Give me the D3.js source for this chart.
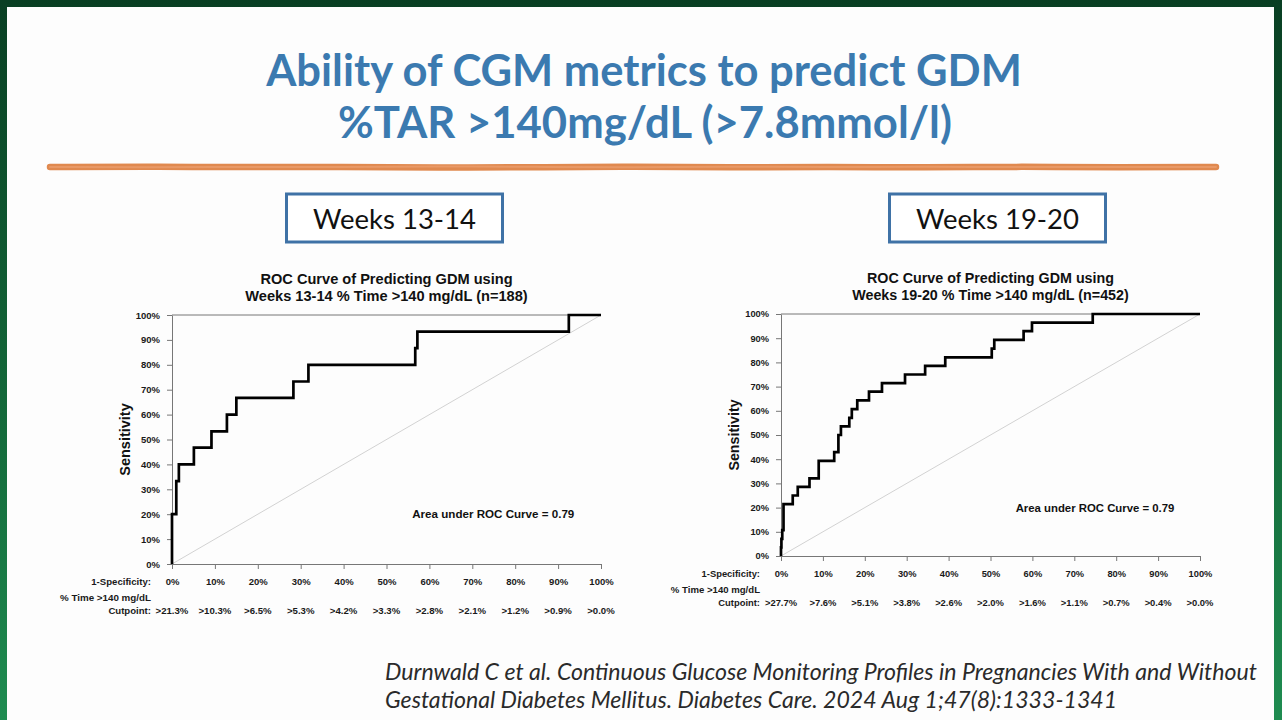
<!DOCTYPE html>
<html>
<head>
<meta charset="utf-8">
<script src="https://cdn.jsdelivr.net/npm/d3@7"></script>
<style>
  html, body { margin: 0; padding: 0; overflow: hidden; }
  body { width: 1282px; height: 720px; }
</style>
</head>
<body>
<div id="slide"></div>
<script>
// valores
const tickPct = [0, 10, 20, 30, 40, 50, 60, 70, 80, 90, 100];
const cortes1314 = [">21.3%", ">10.3%", ">6.5%", ">5.3%", ">4.2%", ">3.3%", ">2.8%", ">2.1%", ">1.2%", ">0.9%", ">0.0%"];
const cortes1920 = [">27.7%", ">7.6%", ">5.1%", ">3.8%", ">2.6%", ">2.0%", ">1.6%", ">1.1%", ">0.7%", ">0.4%", ">0.0%"];

// 1-especificidad (%) y sensibilidad (%) en cada escalon
const fpr1314 = [0, 0, 1.0, 1.6, 5.1, 9.2, 12.8, 15.0, 28.3, 31.8, 56.7, 57.2, 92.5, 100];
const tpr1314 = [0, 20.0, 33.3, 40.0, 46.7, 53.3, 60.0, 66.7, 73.3, 80.0, 86.7, 93.3, 100, 100];

const fpr1920 = [0, 0, 0.1, 0.3, 0.6, 2.8, 4.0, 6.8, 9.0, 12.7, 13.7, 14.3, 16.3, 16.9, 18.2, 21.0, 24.1, 29.6, 34.4, 39.2, 50.3, 50.9, 57.9, 59.9, 74.4, 100];
const tpr1920 = [0, 3.6, 7.1, 10.7, 21.4, 25.0, 28.6, 32.1, 39.3, 42.9, 50.0, 53.6, 57.1, 60.7, 64.3, 67.9, 71.4, 75.0, 78.6, 82.1, 85.7, 89.3, 92.9, 96.4, 100, 100];

const titulo = ["Ability of CGM metrics to predict GDM", "%TAR >140mg/dL (>7.8mmol/l)"];
const cita = ["Durnwald C et al. Continuous Glucose Monitoring Profiles in Pregnancies With and Without",
              "Gestational Diabetes Mellitus. Diabetes Care. 2024 Aug 1;47(8):1333-1341"];
const auc = 0.79;

const W = 1282, H = 720;
const svg = d3.select("#slide").append("svg")
    .attr("width", W).attr("height", H)
    .style("display", "block");

// fondo verde con degradado
const defs = svg.append("defs");
const grad = defs.append("linearGradient").attr("id", "verde")
    .attr("x1", 0).attr("y1", 0).attr("x2", 0).attr("y2", 1);
grad.append("stop").attr("offset", "0%").attr("stop-color", "#093f23");
grad.append("stop").attr("offset", "60%").attr("stop-color", "#146b3b");
grad.append("stop").attr("offset", "100%").attr("stop-color", "#1f8c51");

svg.append("rect").attr("width", W).attr("height", H).attr("fill", "url(#verde)");
svg.append("rect").attr("x", 7).attr("y", 7).attr("width", 1267).attr("height", H - 7)
    .attr("fill", "#fdfdfd");

// ajusta el tamano de letra para ocupar un ancho dado
function ajustar(sel, ancho) {
    const w = sel.node().getComputedTextLength();
    const fs = parseFloat(sel.attr("font-size"));
    sel.attr("font-size", (fs * ancho / w).toFixed(2));
    return fs * ancho / w;
}

// titulo principal
const t1 = svg.append("text").attr("x", 644).attr("y", 86)
    .attr("text-anchor", "middle").attr("font-family", "Lato, 'Open Sans', sans-serif")
    .attr("font-weight", "bold").attr("font-size", 40).attr("fill", "#3b7ab0")
    .text(titulo[0]);
ajustar(t1, 756);
const t2 = svg.append("text").attr("x", 645).attr("y", 138)
    .attr("text-anchor", "middle").attr("font-family", "Lato, 'Open Sans', sans-serif")
    .attr("font-weight", "bold").attr("font-size", 40).attr("fill", "#3b7ab0")
    .text(titulo[1]);
ajustar(t2, 614);

// trazo naranja bajo el titulo
const ondas = [0, -0.6, 0.4, -0.3, 0.8, 0.2, -0.5, 0.6, -0.2, 0.5, -0.4, 0.3, 0];
const xo = d3.scaleLinear().domain([0, ondas.length - 1]).range([50, 1216]);
const trazo = d3.line().x((d, i) => xo(i)).y(d => 167 + d).curve(d3.curveBasis);
svg.append("path").attr("d", trazo(ondas)).attr("fill", "none")
    .attr("stroke", "#e0894f").attr("stroke-width", 6.5).attr("stroke-linecap", "round");
svg.append("path").attr("d", trazo(ondas.map(d => -d * 0.8))).attr("fill", "none")
    .attr("stroke", "#eca070").attr("stroke-width", 2).attr("stroke-linecap", "round")
    .attr("opacity", 0.7);

// cajas de semanas
function caja(x, y, w, h, texto) {
    svg.append("rect").attr("x", x).attr("y", y).attr("width", w).attr("height", h)
        .attr("fill", "#ffffff").attr("stroke", "#3f72a6").attr("stroke-width", 3);
    const t = svg.append("text").attr("x", x + w / 2).attr("y", y + 35)
        .attr("text-anchor", "middle").attr("font-family", "Lato, 'Open Sans', sans-serif")
        .attr("font-size", 26).attr("fill", "#111").text(texto);
    ajustar(t, 163);
}
caja(286.5, 194, 216, 48, "Weeks 13-14");
caja(889.5, 194, 216, 48, "Weeks 19-20");

const fuente = "'Liberation Sans', Arial, sans-serif";

function graficoRoc(cfg) {
    const g = svg.append("g");
    const x = d3.scaleLinear().domain([0, 100]).range([cfg.left, cfg.right]);
    const y = d3.scaleLinear().domain([0, 100]).range([cfg.bottom, cfg.top]);

    // titulo del grafico
    const cx = (cfg.left + cfg.right) / 2;
    g.append("text").attr("x", cx).attr("y", cfg.top - 31)
        .attr("text-anchor", "middle").attr("font-family", fuente).attr("font-weight", "bold")
        .attr("font-size", cfg.fs * 14.6).attr("fill", "#111")
        .text("ROC Curve of Predicting GDM using");
    g.append("text").attr("x", cx).attr("y", cfg.top - 14)
        .attr("text-anchor", "middle").attr("font-family", fuente).attr("font-weight", "bold")
        .attr("font-size", cfg.fs * 14.6).attr("fill", "#111")
        .text(cfg.subtitulo);

    // diagonal de referencia
    g.append("line")
        .attr("x1", x(0)).attr("y1", y(0)).attr("x2", x(100)).attr("y2", y(100))
        .attr("stroke", "#d2d2d2").attr("stroke-width", 1);

    // linea superior del marco
    g.append("line")
        .attr("x1", x(0)).attr("y1", y(100)).attr("x2", x(100)).attr("y2", y(100))
        .attr("stroke", "#777").attr("stroke-width", 1);

    const ejeY = g.append("g")
        .attr("transform", `translate(${cfg.left}, 0)`)
        .call(d3.axisLeft(y).tickValues(tickPct).tickSize(5).tickSizeOuter(0)
            .tickPadding(7).tickFormat(d => d + "%"));
    const ejeX = g.append("g")
        .attr("transform", `translate(0, ${cfg.bottom})`)
        .call(d3.axisBottom(x).tickValues(tickPct).tickSize(5).tickSizeOuter(0)
            .tickPadding(0).tickFormat(d => d + "%"));

    [ejeY, ejeX].forEach(e => {
        e.select(".domain").attr("stroke", "#777");
        e.selectAll(".tick line").attr("stroke", "#777");
        e.selectAll("text").attr("font-family", fuente).attr("font-weight", "bold")
            .attr("font-size", cfg.fs * 9.5).attr("fill", "#1a1a1a");
    });
    ejeX.selectAll("text").attr("dy", null).attr("y", 21);

    // curva ROC escalonada
    const puntos = cfg.fpr.map((f, i) => [f, cfg.tpr[i]]);
    g.append("path")
        .datum(puntos)
        .attr("fill", "none")
        .attr("stroke", "#000")
        .attr("stroke-width", 2.7)
        .attr("stroke-linejoin", "miter")
        .attr("d", d3.line().x(d => x(d[0])).y(d => y(d[1])).curve(d3.curveStepAfter));

    // etiquetas del eje x
    const xr = cfg.left - 21;
    g.append("text").attr("x", xr).attr("y", cfg.bottom + 21)
        .attr("text-anchor", "end").attr("font-family", fuente).attr("font-weight", "bold")
        .attr("font-size", cfg.fs * 9.6).attr("fill", "#1a1a1a").text("1-Specificity:");
    g.append("text").attr("x", xr).attr("y", cfg.bottom + 37)
        .attr("text-anchor", "end").attr("font-family", fuente).attr("font-weight", "bold")
        .attr("font-size", cfg.fs * 9.8).attr("fill", "#1a1a1a").text("% Time >140 mg/dL");
    g.append("text").attr("x", xr).attr("y", cfg.bottom + 50)
        .attr("text-anchor", "end").attr("font-family", fuente).attr("font-weight", "bold")
        .attr("font-size", cfg.fs * 9.6).attr("fill", "#1a1a1a").text("Cutpoint:");

    g.selectAll(".corte")
        .data(cfg.cortes)
        .enter()
        .append("text")
        .attr("class", "corte")
        .attr("x", (d, i) => x(tickPct[i]))
        .attr("y", cfg.bottom + 50)
        .attr("text-anchor", "middle")
        .attr("font-family", fuente)
        .attr("font-weight", "bold")
        .attr("font-size", cfg.fs * 9.6)
        .attr("fill", "#1a1a1a")
        .text(d => d);

    // etiqueta del eje y
    g.append("text")
        .attr("transform", `translate(${cfg.left - 47}, ${(cfg.top + cfg.bottom) / 2}) rotate(-90)`)
        .attr("text-anchor", "middle").attr("dominant-baseline", "central")
        .attr("font-family", fuente).attr("font-weight", "bold")
        .attr("font-size", cfg.fs * 14.5).attr("fill", "#111").text("Sensitivity");

    // area bajo la curva
    g.append("text").attr("x", x(56)).attr("y", y(cfg.aucY))
        .attr("font-family", fuente).attr("font-weight", "bold")
        .attr("font-size", cfg.fs * 11.6).attr("fill", "#111")
        .text(`Area under ROC Curve = ${auc}`);
}

graficoRoc({
    left: 172, right: 601, top: 315, bottom: 564, fs: 1,
    subtitulo: "Weeks 13-14 % Time >140 mg/dL (n=188)",
    fpr: fpr1314, tpr: tpr1314, cortes: cortes1314, aucY: 18.5
});
graficoRoc({
    left: 781, right: 1200, top: 314, bottom: 556, fs: 0.98,
    subtitulo: "Weeks 19-20 % Time >140 mg/dL (n=452)",
    fpr: fpr1920, tpr: tpr1920, cortes: cortes1920, aucY: 18.2
});

// referencia bibliografica
const c1 = svg.append("text").attr("x", 385).attr("y", 680)
    .attr("font-family", "Lato, 'Open Sans', sans-serif").attr("font-style", "italic")
    .attr("font-size", 20).attr("fill", "#2a2a2a").text(cita[0]);
const fsCita = ajustar(c1, 872);
svg.append("text").attr("x", 385).attr("y", 708)
    .attr("font-family", "Lato, 'Open Sans', sans-serif").attr("font-style", "italic")
    .attr("font-size", fsCita.toFixed(2)).attr("fill", "#2a2a2a").text(cita[1]);
</script>
</body>
</html>
